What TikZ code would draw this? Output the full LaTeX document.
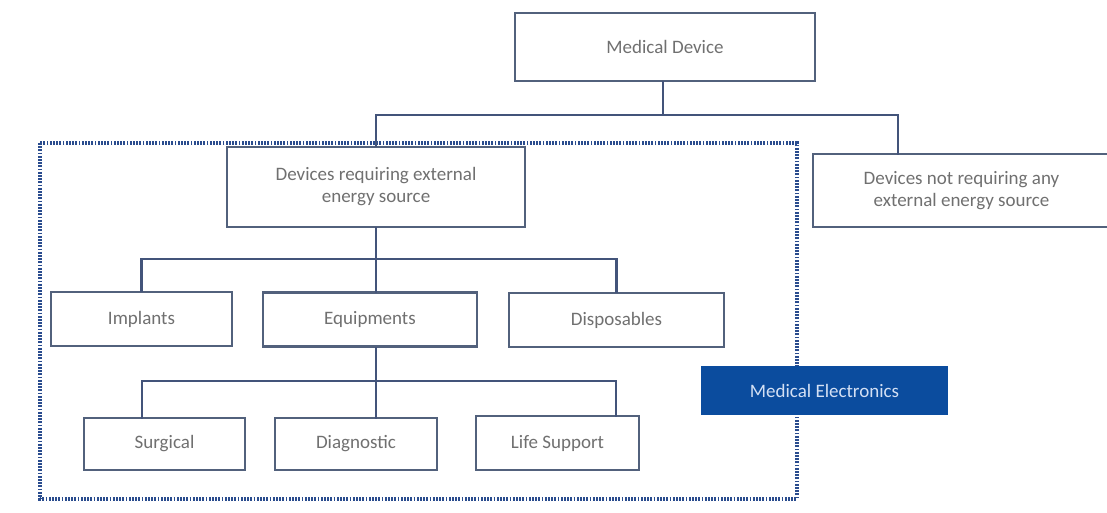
\documentclass[tikz,border=0pt]{standalone}
\usepackage{fontspec}
\setmainfont{Carlito}
\definecolor{boxline}{HTML}{52617C}
\definecolor{conn}{HTML}{43547A}
\definecolor{dotblue}{HTML}{2A4C8E}
\definecolor{txt}{HTML}{707070}
\definecolor{mefill}{HTML}{0B4C9E}
\definecolor{metxt}{HTML}{D4E0F4}
\begin{document}
\begin{tikzpicture}[x=1pt,y=-1pt,
  box/.style={draw=boxline,line width=2.6pt,fill=white,text=txt,align=center,
    font=\fontsize{19}{22}\selectfont,inner sep=0pt},
  link/.style={draw=conn,line width=2.6pt,line cap=rect}]
\useasboundingbox[fill=white] (0,0) rectangle (1107,512);
% dotted frame
\draw[dotblue,line width=3.2pt,dash pattern=on 1.8pt off 1.4pt] (40,143) rectangle (797,499);
% nodes
\node[box,minimum width=300pt,minimum height=68pt] (md) at (665,47) {Medical Device};
\node[box,minimum width=298pt,minimum height=80pt] (dr) at (376,187) {Devices requiring external\\energy source};
\node[box,minimum width=297pt,minimum height=73pt] (dnr) at (961.5,190.5) {Devices not requiring any\\external energy source};
\node[box,minimum width=181pt,minimum height=54pt] (imp) at (141.5,319) {Implants};
\node[box,minimum width=214pt,minimum height=54pt] (eq) at (370,319.5) {Equipments};
\node[box,minimum width=215pt,minimum height=54pt] (dis) at (616.5,320) {Disposables};
\node[box,minimum width=161pt,minimum height=52pt] (sur) at (164.5,444) {Surgical};
\node[box,minimum width=162pt,minimum height=52pt] (dia) at (356,444) {Diagnostic};
\node[box,minimum width=163pt,minimum height=54pt] (ls) at (557.5,443) {Life Support};
\node[fill=mefill,text=metxt,minimum width=247pt,minimum height=49pt,inner sep=0pt,
  font=\fontsize{19}{22}\selectfont] (me) at (824.5,390.5) {Medical Electronics};
% junction coordinates
\coordinate (j1) at (663,115);
\coordinate (dnrtop) at (898,154);
\coordinate (j2) at (376,259);
\coordinate (j3) at (376,381);
\coordinate (surtop) at (142,418);
\coordinate (lstop) at (616,416);
\coordinate (diatop) at (376,418);
% connectors
\draw[link] (md.south -| j1) -- (j1);
\draw[link] (j1) -| (dr.north);
\draw[link] (j1) -| (dnrtop);
\draw[link] (dr.south) -- (j2);
\draw[link] (j2) -| (imp.north);
\draw[link] (j2) -| (dis.north);
\draw[link] (j2) -- (j2 |- eq.north);
\draw[link] (j2 |- eq.south) -- (j3);
\draw[link] (j3) -| (surtop);
\draw[link] (j3) -| (lstop);
\draw[link] (j3) -- (diatop);
\end{tikzpicture}
\end{document}
